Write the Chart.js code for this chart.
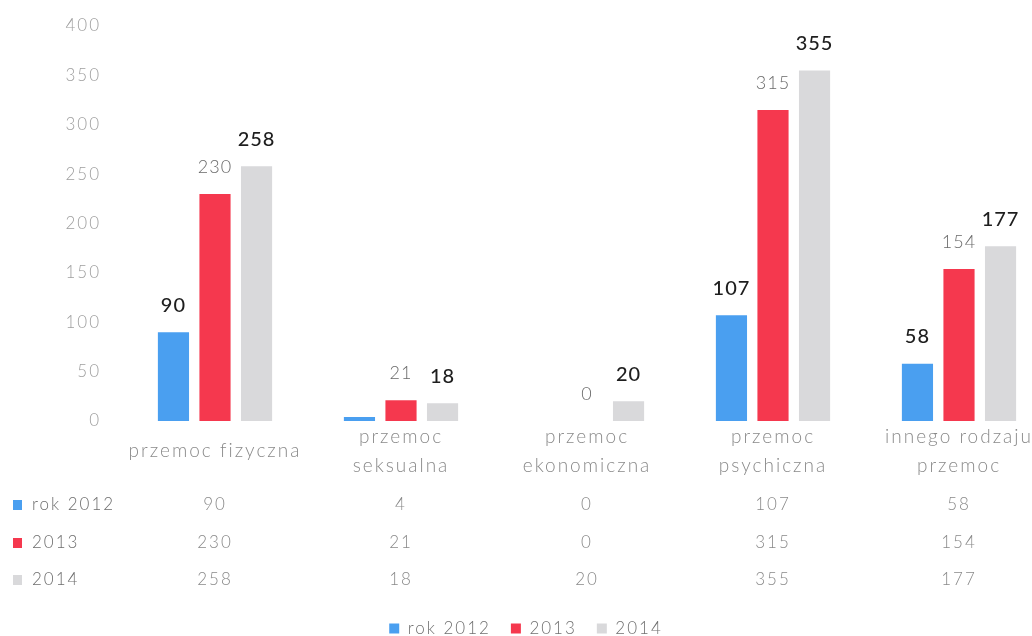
<!DOCTYPE html>
<html>
<head>
<meta charset="utf-8">
<script src="https://cdn.jsdelivr.net/npm/chart.js@4/dist/chart.umd.min.js"></script>
<style>
  html, body { margin: 0; padding: 0; background: #fff; overflow: hidden; }
  #wrap { width: 1060px; height: 636px; }
</style>
</head>
<body>
<div id="wrap"><canvas id="canvas" width="1060" height="636"></canvas></div>
<script>
// dane z wykresu
var categories = [
  'przemoc fizyczna',
  ['przemoc', 'seksualna'],
  ['przemoc', 'ekonomiczna'],
  ['przemoc', 'psychiczna'],
  ['innego rodzaju', 'przemoc']
];
var seriesNames = ['rok 2012', '2013', '2014'];
var rok2012 = [90, 4, 0, 107, 58];
var rok2013 = [230, 21, 0, 315, 154];
var rok2014 = [258, 18, 20, 355, 177];
var yTicks = [0, 50, 100, 150, 200, 250, 300, 350, 400];

var colors = ['#4a9ff0', '#f5384e', '#d9d9db'];
var font = 'Lato, "Open Sans", sans-serif';

// szeroki rozstaw liter jak w oryginale (Calibri Light)
var spacing = {
  id: 'spacing',
  beforeUpdate: function (chart) { chart.ctx.letterSpacing = '2px'; },
  beforeDraw: function (chart) { chart.ctx.letterSpacing = '2px'; }
};

// etykiety nad slupkami
var barLabels = {
  id: 'barLabels',
  afterDatasetsDraw: function (chart) {
    var ctx = chart.ctx;
    ctx.save();
    ctx.letterSpacing = '1px';
    ctx.textAlign = 'center';
    ctx.textBaseline = 'middle';
    chart.data.datasets.forEach(function (ds, di) {
      var meta = chart.getDatasetMeta(di);
      meta.data.forEach(function (bar, i) {
        var v = ds.data[i];
        if (di === 0 && v < 10) return; // w oryginale brak etykiety
        if (di === 1) {
          ctx.font = '300 18px ' + font;
          ctx.fillStyle = '#6a6a6a';
        } else {
          ctx.font = '500 20px ' + font;
          ctx.fillStyle = '#1e1e1e';
        }
        ctx.fillText(String(v), bar.x, bar.y - 27);
      });
    });
    ctx.restore();
  }
};

// tabela danych pod osia
var dataTable = {
  id: 'dataTable',
  afterDraw: function (chart) {
    var ctx = chart.ctx;
    var x = chart.scales.x;
    var base = chart.chartArea.bottom;
    var rowsY = [base + 84, base + 122, base + 159];
    ctx.save();
    ctx.letterSpacing = '2px';
    ctx.textBaseline = 'middle';
    chart.data.datasets.forEach(function (ds, di) {
      var y = rowsY[di];
      ctx.fillStyle = colors[di];
      ctx.fillRect(13, y - 5, 9, 10);
      ctx.font = '300 17px ' + font;
      ctx.fillStyle = '#6e6e6e';
      ctx.textAlign = 'left';
      ctx.fillText(seriesNames[di], 32, y);
      ctx.fillStyle = '#8a8a8a';
      ctx.textAlign = 'center';
      ds.data.forEach(function (v, i) {
        ctx.fillText(String(v), x.getPixelForValue(i), y);
      });
    });
    ctx.restore();
  }
};

var data = {
  labels: categories,
  datasets: [
    { label: seriesNames[0], data: rok2012, backgroundColor: colors[0] },
    { label: seriesNames[1], data: rok2013, backgroundColor: colors[1] },
    { label: seriesNames[2], data: rok2014, backgroundColor: colors[2] }
  ]
};

var config = {
  type: 'bar',
  data: data,
  options: {
    responsive: false,
    animation: false,
    devicePixelRatio: 1,
    layout: { padding: { top: 26, right: 8, bottom: -11, left: 0 } },
    datasets: { bar: { categoryPercentage: 0.67, barPercentage: 0.75 } },
    scales: {
      x: {
        grid: { display: false, drawTicks: false },
        border: { display: false },
        ticks: {
          color: '#8a8a8a',
          font: { family: font, size: 19, weight: '300', lineHeight: 1.5 },
          crossAlign: 'center',
          padding: 16,
          maxRotation: 0,
          autoSkip: false
        },
        afterFit: function (scale) { scale.height = 179; }
      },
      y: {
        min: 0,
        max: 400,
        afterBuildTicks: function (scale) {
          scale.ticks = yTicks.map(function (v) { return { value: v }; });
        },
        // kreski ukryte, ale tickLength odsuwa etykiety od wykresu
        grid: { display: false, drawTicks: true, tickLength: 17 },
        border: { display: false },
        ticks: {
          color: '#9f9f9f',
          font: { family: font, size: 17, weight: '300' },
          padding: 4
        },
        afterFit: function (scale) { scale.width = 122; }
      }
    },
    plugins: {
      tooltip: { enabled: false },
      legend: {
        position: 'bottom',
        labels: {
          boxWidth: 10,
          boxHeight: 10,
          padding: 20,
          color: '#707070',
          font: { family: font, size: 17, weight: '300' }
        }
      }
    }
  },
  plugins: [spacing, barLabels, dataTable]
};

var chart = new Chart(document.getElementById('canvas'), config);
</script>
</body>
</html>
